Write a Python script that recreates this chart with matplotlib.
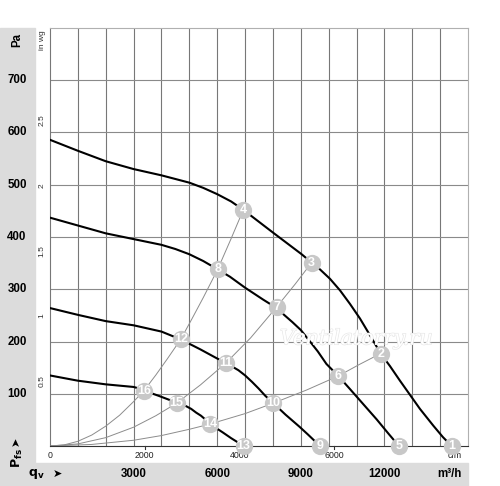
import matplotlib
matplotlib.use("Agg")
import matplotlib.pyplot as plt
import matplotlib.transforms as mtransforms
import matplotlib.patheffects as pe
from matplotlib.patches import Rectangle

plt.rcParams['font.family'] = ['Liberation Sans', 'DejaVu Sans']

# fan curves, qv in m3/h, pressure in Pa
q1 = [0, 1000, 2000, 3000, 4000, 5000, 5500, 6000, 6500, 6937, 8013, 9030, 9390,
      9688, 10047, 10405, 10764, 11123, 11482, 11865, 12199, 12558, 12917, 13276,
      13754, 14100, 14412]
p1 = [586, 565, 545, 530, 518, 504, 494, 482, 468, 452, 408, 367, 351,
      338, 320, 298, 272, 244, 212, 177, 153, 125, 98, 71,
      39, 17, 0]
q2 = [0, 1000, 2000, 3000, 4000, 4500, 5000, 5500, 6017, 6457, 7000, 7654, 8134,
      8400, 8700, 9000, 9300, 9610, 9920, 10346, 10764, 11243, 11722, 12140, 12520]
p2 = [437, 422, 407, 396, 385, 377, 367, 354, 338, 324, 303, 280, 264,
      251, 237, 222, 202, 181, 157, 134, 109, 80, 51, 24, 0]
q3 = [0, 1000, 2000, 3000, 4000, 4690, 5393, 5980, 6315, 6762, 7003, 7244, 7486,
      7727, 8013, 8452, 8950, 9256, 9688]
p3 = [264, 251, 239, 231, 219, 204, 185, 168, 159, 145, 135, 123, 110,
      96, 82, 60, 37, 22, 0]
q4 = [0, 1000, 2000, 3000, 3200, 3373, 3902, 4545, 4893, 5067, 5242, 5417, 5592,
      5741, 6200, 6500, 6950]
p4 = [135, 125, 118, 113, 110, 106, 96, 83, 76, 71, 64, 58, 50,
      42, 26, 15, 0]

# system curves
qa = [0, 500, 1000, 1500, 2000, 2500, 3000, 3373, 3800, 4200, 4690, 5100, 5500,
      6017, 6500, 6937]
pa = [0, 2, 9, 21, 38, 59, 85, 106, 136, 166, 204, 244, 284,
      338, 397, 452]
qb = [0, 1000, 2000, 3000, 3800, 4545, 5400, 6315, 7200, 8134, 8800, 9390]
pb = [0, 4, 16, 36, 58, 82, 117, 159, 207, 266, 310, 351]
qc = [0, 1500, 3000, 4000, 5000, 5741, 7000, 8013, 9200, 10346, 11100, 11865]
pc = [0, 3, 11, 20, 32, 42, 62, 82, 107, 134, 156, 177]

# operating points
pt_num = list(range(1, 17))
pt_q = [14412, 11865, 9390, 6937, 12520, 10346, 8134, 6017,
        9688, 8013, 6315, 4690, 6950, 5741, 4545, 3373]
pt_p = [0, 177, 351, 452, 0, 134, 266, 338,
        0, 82, 159, 204, 0, 42, 82, 106]

pa_ticks = [100, 200, 300, 400, 500, 600, 700]
inwg_ticks = [0.5, 1, 1.5, 2, 2.5]
m3h_ticks = [3000, 6000, 9000, 12000]
cfm_ticks = [0, 2000, 4000, 6000]

fig = plt.figure(figsize=(5, 4.86), dpi=100)
fig.patches.append(Rectangle((0, 0), 0.07, 0.9424, transform=fig.transFigure,
                             color='#dcdcdc', zorder=-1))
fig.patches.append(Rectangle((0, 0), 0.936, 0.0473, transform=fig.transFigure,
                             color='#dcdcdc', zorder=-1))

ax = fig.add_axes([0.1, 0.0823, 0.836, 0.8601])
ax.set_xlim(0, 15000)
ax.set_ylim(0, 800)

for x in range(1000, 15000, 1000):
    ax.axvline(x, color='#777777', lw=0.8, zorder=1)
for y in range(100, 800, 100):
    ax.axhline(y, color='#8a8a8a', lw=0.8, zorder=1)

ax.set_xticks([])
ax.set_yticks([])
ax.spines['left'].set_color('#777777')
ax.spines['bottom'].set_color('#333333')
ax.spines['top'].set_color('#b0b0b0')
ax.spines['right'].set_color('#b0b0b0')
for s in ax.spines.values():
    s.set_linewidth(0.8)

for q, p in [(qa, pa), (qb, pb), (qc, pc)]:
    ax.plot(q, p, color='#8c8c8c', lw=0.7, zorder=2)
for q, p in [(q1, p1), (q2, p2), (q3, p3), (q4, p4)]:
    ax.plot(q, p, color='black', lw=1.5, zorder=3, solid_capstyle='round',
            solid_joinstyle='round')

ax.scatter(pt_q, pt_p, s=155, color='#c8c8c8', zorder=5, clip_on=False, linewidths=0)
for n, q, p in zip(pt_num, pt_q, pt_p):
    ax.text(q, p, str(n), color='white', fontsize=9, fontweight='bold',
            ha='center', va='center', zorder=6)

# watermark
ax.text(11000, 205, 'Ventilatorry.ru', family='DejaVu Serif', style='italic',
        fontsize=15, color='white', ha='center', va='center', zorder=4,
        path_effects=[pe.withStroke(linewidth=0.9, foreground='#e6e6e6')])

ty = mtransforms.blended_transform_factory(ax.transAxes, ax.transData)
tx = mtransforms.blended_transform_factory(ax.transData, ax.transAxes)

for v in pa_ticks:
    ax.text(-0.079, v, str(v), transform=ty, fontsize=8.3, fontweight='bold',
            ha='center', va='center', clip_on=False)
for v in inwg_ticks:
    ax.text(-0.019, v * 249.09, f'{v:g}', transform=ty, fontsize=6, rotation=90,
            ha='center', va='center', color='#333333', clip_on=False)
ax.text(-0.079, 0.971, 'Pa', transform=ax.transAxes, fontsize=8.3, fontweight='bold',
        rotation=90, ha='center', va='center')
ax.text(-0.019, 0.971, 'in wg', transform=ax.transAxes, fontsize=6, rotation=90,
        ha='center', va='center', color='#333333')

for v in m3h_ticks:
    ax.text(v, -0.067, str(v), transform=tx, fontsize=8.3, fontweight='bold',
            ha='center', va='center', clip_on=False)
ax.text(14350, -0.067, 'm³/h', transform=tx, fontsize=8.3, fontweight='bold',
        ha='center', va='center', clip_on=False)

for v in cfm_ticks:
    ax.text(v * 1.699, -0.022, str(v), transform=tx, fontsize=6.3,
            ha='center', va='center', color='#222222', clip_on=False)
    if v > 0:
        ax.plot([v * 1.699, v * 1.699], [0, -0.008], transform=tx, color='#333333',
                lw=0.8, clip_on=False)
ax.text(14532, -0.022, 'cfm', transform=tx, fontsize=6.3, ha='center', va='center',
        color='#222222', clip_on=False, zorder=4)

ax.text(-0.0335, -0.067, r'$\mathbf{q_v}$', transform=ax.transAxes, fontsize=9,
        ha='center', va='center')
ax.text(0.017, -0.067, '➤', transform=ax.transAxes, fontsize=8,
        ha='center', va='center', family='DejaVu Sans')
ax.text(-0.079, -0.029, r'$\mathbf{P_{fs}}$', transform=ax.transAxes, fontsize=9,
        rotation=90, ha='center', va='center')
ax.text(-0.082, 0.0103, '➤', transform=ax.transAxes, fontsize=8, rotation=90,
        ha='center', va='center', family='DejaVu Sans')

fig.savefig('out.png', dpi=100)
